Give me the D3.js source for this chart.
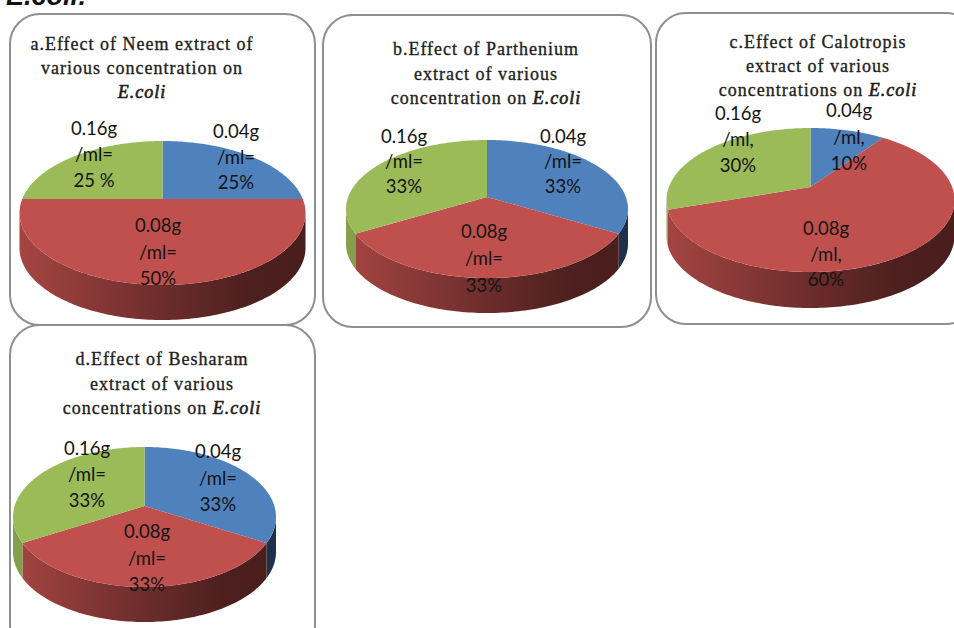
<!DOCTYPE html>
<html>
<head>
<meta charset="utf-8">
<script src="https://cdn.jsdelivr.net/npm/d3@7"></script>
<style>
html,body{margin:0;padding:0;background:#fff;overflow:hidden}
svg{display:block}
.title{font-family:"Liberation Serif",serif;font-size:18px;fill:#1e1e1e;stroke:#1e1e1e;stroke-width:.35px;text-anchor:middle;letter-spacing:1px}
.lab{font-family:Lato,"Noto Sans",sans-serif;font-size:18.5px;fill:#141414;text-anchor:middle}
.head{font-family:"Liberation Sans",sans-serif;font-size:27px;font-weight:bold;font-style:italic;fill:#111}
</style>
</head>
<body>
<svg id="chart" width="954" height="628"></svg>
<script>
// Concentrations, shared by all four extracts
const concentrations = ["0.04g", "0.08g", "0.16g"];

// Share of inhibition per concentration, in percent
const neemValues = [25, 50, 25];
const partheniumValues = [33, 33, 33];
const calotropisValues = [10, 60, 30];
const besharamValues = [33, 33, 33];

// Chart titles, one entry per line
const neemTitle = ["a.Effect of Neem extract of", "various concentration on", "E.coli"];
const partheniumTitle = ["b.Effect of Parthenium", "extract of various", "concentration on E.coli"];
const calotropisTitle = ["c.Effect of Calotropis", "extract of various", "concentrations on E.coli"];
const besharamTitle = ["d.Effect of Besharam", "extract of various", "concentrations on E.coli"];

const sliceColors = ["#4f81bd", "#c0504d", "#9bbb59"];

// Frame box, pie geometry (apex, half width, rise, fall, wall depth) and text anchors
const panels = [
  { values: neemValues, title: neemTitle, sep: "=", gap: ["", "", " "],
    box: [10, 14, 305, 311], pie: { cx: 162.5, cy: 199, rx: 143, up: 58, down: 86, depth: 35 },
    titleAt: [142, 50, 24.2],
    labelAt: [[236, 138, 25.5], [158, 232, 26.5], [94, 135, 26]] },
  { values: partheniumValues, title: partheniumTitle, sep: "=", gap: ["", "", ""],
    box: [323, 15, 328, 312], pie: { cx: 487, cy: 197, rx: 141, up: 57, down: 81, depth: 35 },
    titleAt: [486, 55, 24.5],
    labelAt: [[563, 143, 25], [484, 238, 27], [404, 143, 25]] },
  { values: calotropisValues, title: calotropisTitle, sep: ",", gap: ["", "", ""],
    box: [656, 13, 320, 311], pie: { cx: 810.5, cy: 187, rx: 144, up: 59, down: 85, depth: 36 },
    titleAt: [818, 48, 24],
    labelAt: [[849, 117, 26.5], [826, 235, 25.5], [738, 120, 26]] },
  { values: besharamValues, title: besharamTitle, sep: "=", gap: ["", "", ""],
    box: [10, 325, 305, 330], pie: { cx: 144.5, cy: 506, rx: 131.5, up: 59, down: 81, depth: 35 },
    titleAt: [162, 365, 24.5],
    labelAt: [[218, 458, 26.5], [147, 538, 26.5], [87, 455, 26]] }
];

const svg = d3.select("#chart");
const defs = svg.append("defs");

svg.append("text").attr("class", "head").attr("x", 6).attr("y", 5).text("E.coli:");

const tau = 2 * Math.PI;
const pieLayout = d3.pie().sort(null).value(d => d);
const pathLine = d3.line();

// Perspective projection of the unit disc onto the tilted pie top
function projector(p) {
  const k = (p.down - p.up) / (p.down + p.up);
  const B = p.up * (1 + k);
  const A = p.rx * Math.sqrt(1 - k * k);
  const at = (theta, drop = 0) => {
    const u = Math.sin(theta), v = Math.cos(theta), w = 1 + k * v;
    return [p.cx + A * u / w, p.cy - B * v / w + drop];
  };
  return { k, at };
}

function arcPoints(at, a0, a1, drop = 0) {
  const n = Math.max(2, Math.ceil((a1 - a0) / 0.02));
  return d3.range(n + 1).map(i => at(a0 + (a1 - a0) * i / n, drop));
}

panels.forEach((panel, pi) => {
  const g = svg.append("g");
  const [bx, by, bw, bh] = panel.box;

  g.append("rect")
    .attr("x", bx).attr("y", by).attr("width", bw).attr("height", bh)
    .attr("rx", 30).attr("ry", 30)
    .attr("fill", "#fff").attr("stroke", "#8f8f8f").attr("stroke-width", 2);

  const p = panel.pie;
  const { k, at } = projector(p);
  const arcs = pieLayout(panel.values);

  // The outer wall is visible only on the near side of the silhouette
  const wallStart = Math.acos(-k), wallEnd = tau - wallStart;

  arcs.forEach((d, i) => {
    const from = Math.max(d.startAngle, wallStart);
    const to = Math.min(d.endAngle, wallEnd);
    if (to <= from) return;
    const base = d3.rgb(sliceColors[i]);
    const id = `wall-${pi}-${i}`;
    const grad = defs.append("linearGradient").attr("id", id)
      .attr("gradientUnits", "userSpaceOnUse")
      .attr("x1", p.cx - p.rx).attr("x2", p.cx + p.rx).attr("y1", 0).attr("y2", 0);
    [[0, .86], [.5, .56], [.8, .40], [1, .38]].forEach(([t, s]) => {
      grad.append("stop").attr("offset", t)
        .attr("stop-color", d3.rgb(base.r * s, base.g * s, base.b * s).formatHex());
    });
    const pts = arcPoints(at, from, to).concat(arcPoints(at, from, to, p.depth).reverse());
    g.append("path").attr("d", pathLine(pts) + "Z").attr("fill", `url(#${id})`);
  });

  arcs.forEach((d, i) => {
    const pts = [[p.cx, p.cy]].concat(arcPoints(at, d.startAngle, d.endAngle));
    g.append("path").attr("d", pathLine(pts) + "Z").attr("fill", sliceColors[i]);
  });

  // Title lines; the species name is set in italics
  const [tx, ty, tdy] = panel.titleAt;
  panel.title.forEach((line, li) => {
    const t = g.append("text").attr("class", "title").attr("x", tx).attr("y", ty + li * tdy);
    const parts = line.split("E.coli");
    t.append("tspan").text(parts[0]);
    if (parts.length > 1) t.append("tspan").attr("font-style", "italic").attr("stroke-width", .6).text("E.coli");
  });

  // Data labels: concentration, unit, value
  panel.values.forEach((v, i) => {
    const [lx, ly, ldy] = panel.labelAt[i];
    [concentrations[i], "/ml" + panel.sep, `${v}${panel.gap[i]}%`].forEach((txt, li) => {
      g.append("text").attr("class", "lab").attr("x", lx).attr("y", ly + li * ldy).text(txt);
    });
  });
});
</script>
</body>
</html>
